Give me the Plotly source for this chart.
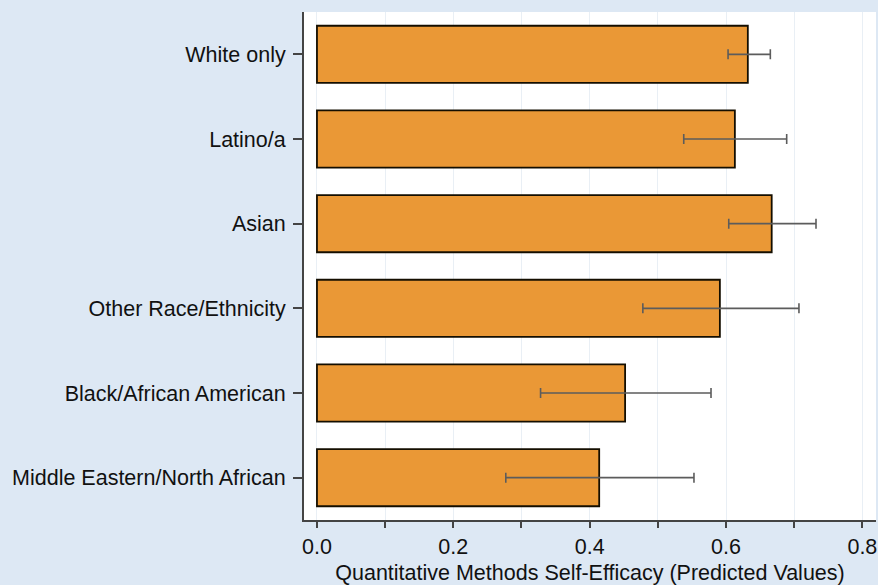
import plotly.graph_objects as go

categories = ["White only", "Latino/a", "Asian", "Other Race/Ethnicity",
              "Black/African American", "Middle Eastern/North African"]
means = [0.632, 0.613, 0.667, 0.591, 0.452, 0.414]
lower = [0.603, 0.538, 0.604, 0.478, 0.328, 0.277]
upper = [0.665, 0.689, 0.732, 0.707, 0.578, 0.553]
x_tickvals = [0.0, 0.1, 0.2, 0.3, 0.4, 0.5, 0.6, 0.7, 0.8]
x_ticktext = ["0.0", "", "0.2", "", "0.4", "", "0.6", "", "0.8"]

err_plus = [u - m for u, m in zip(upper, means)]
err_minus = [m - l for m, l in zip(means, lower)]

fig = go.Figure(go.Bar(
    x=means, y=categories, orientation="h", width=0.675,
    marker=dict(color="#ea9836", line=dict(color="#140e00", width=1.8)),
    error_x=dict(type="data", symmetric=False, array=err_plus, arrayminus=err_minus,
                 color="#5c5c5c", thickness=1.6, width=5),
))

font = "Liberation Sans, Arial, Helvetica, sans-serif"
fs = 21.5
fig.update_layout(
    width=878, height=585,
    margin=dict(l=304, r=2, t=12, b=65),
    paper_bgcolor="#dde8f4", plot_bgcolor="#ffffff",
    font=dict(family=font, size=fs, color="#111111"),
    showlegend=False, bargap=0.3,
)
fig.update_xaxes(
    range=[-0.019, 0.820], tickvals=x_tickvals, ticktext=x_ticktext,
    showgrid=True, gridcolor="#e9eff5", gridwidth=1, zeroline=False,
    showline=True, linecolor="#444444", linewidth=2,
    ticks="outside", ticklen=6, tickwidth=1.5, tickcolor="#444444",
    tickfont=dict(size=fs, family=font),
    title=dict(text="Quantitative Methods Self-Efficacy (Predicted Values)",
               font=dict(size=fs, family=font), standoff=7),
)
fig.update_yaxes(
    range=[5.5, -0.5], categoryorder="array", categoryarray=categories,
    showgrid=False, zeroline=False,
    showline=True, linecolor="#444444", linewidth=2,
    ticks="outside", ticklen=9, tickwidth=1.5, tickcolor="#444444",
    tickfont=dict(size=fs, family=font), ticklabelstandoff=3,
)
fig.write_html("out.html", config={"displayModeBar": False},
               post_script="document.body.style.margin='0';document.body.style.background='#dde8f4';")
